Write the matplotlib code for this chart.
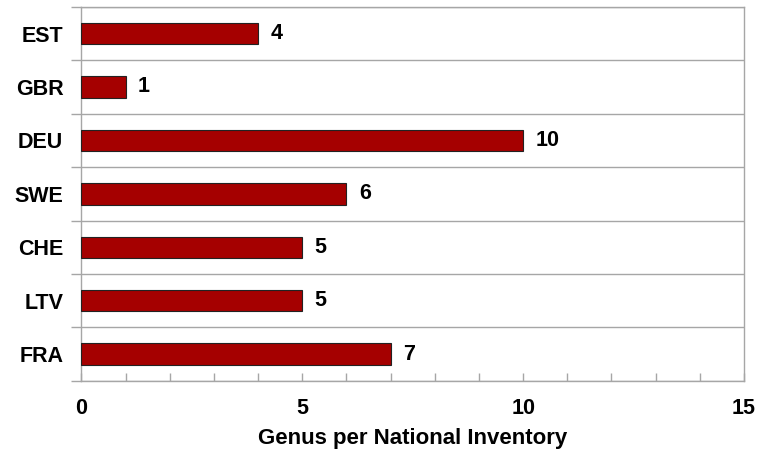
import numpy as np
import matplotlib.pyplot as plt
from matplotlib.ticker import MultipleLocator, FixedLocator

plt.rcParams['font.family'] = ['Liberation Sans', 'DejaVu Sans']

countries = ["EST", "GBR", "DEU", "SWE", "CHE", "LTV", "FRA"]
genus = [4, 1, 10, 6, 5, 5, 7]

# plot from the bottom up so EST ends on top
cats = countries[::-1]
vals = genus[::-1]
y = np.arange(len(cats))

fig = plt.figure(figsize=(7.6, 4.54), dpi=100)
ax = fig.add_axes([0.107, 0.161, 0.872, 0.824])

ax.barh(y, vals, height=0.4, color="#A50000", edgecolor="#222222", linewidth=0.8, zorder=3)
for yi, v in zip(y, vals):
    ax.text(v + 0.28, yi, str(v), va="center", ha="left", fontsize=15.5, fontweight="bold")

ax.set_xlim(0, 15)
ax.set_ylim(-0.5, len(cats) - 0.5)
ax.set_yticks(y)
ax.set_yticklabels(cats, fontsize=15.5, fontweight="bold")
ax.yaxis.set_minor_locator(FixedLocator(np.arange(-0.5, len(cats), 1.0)))
ax.tick_params(axis="y", which="major", length=0, pad=13)
ax.tick_params(axis="y", which="minor", length=7, color="#A6A6A6", width=1, direction="out")
ax.grid(axis="y", which="minor", color="#A6A6A6", linewidth=1, zorder=0)

ax.xaxis.set_major_locator(MultipleLocator(5))
ax.xaxis.set_minor_locator(MultipleLocator(1))
ax.tick_params(axis="x", which="both", direction="in", length=6, color="#A6A6A6", width=1)
ax.tick_params(axis="x", which="major", pad=12, labelsize=15.5)
for lbl in ax.get_xticklabels():
    lbl.set_fontweight("bold")
ax.set_xlabel("Genus per National Inventory", fontsize=16, fontweight="bold", labelpad=7)

for s in ax.spines.values():
    s.set_color("#A6A6A6")
    s.set_linewidth(1)

fig.savefig("out.png", dpi=100)
